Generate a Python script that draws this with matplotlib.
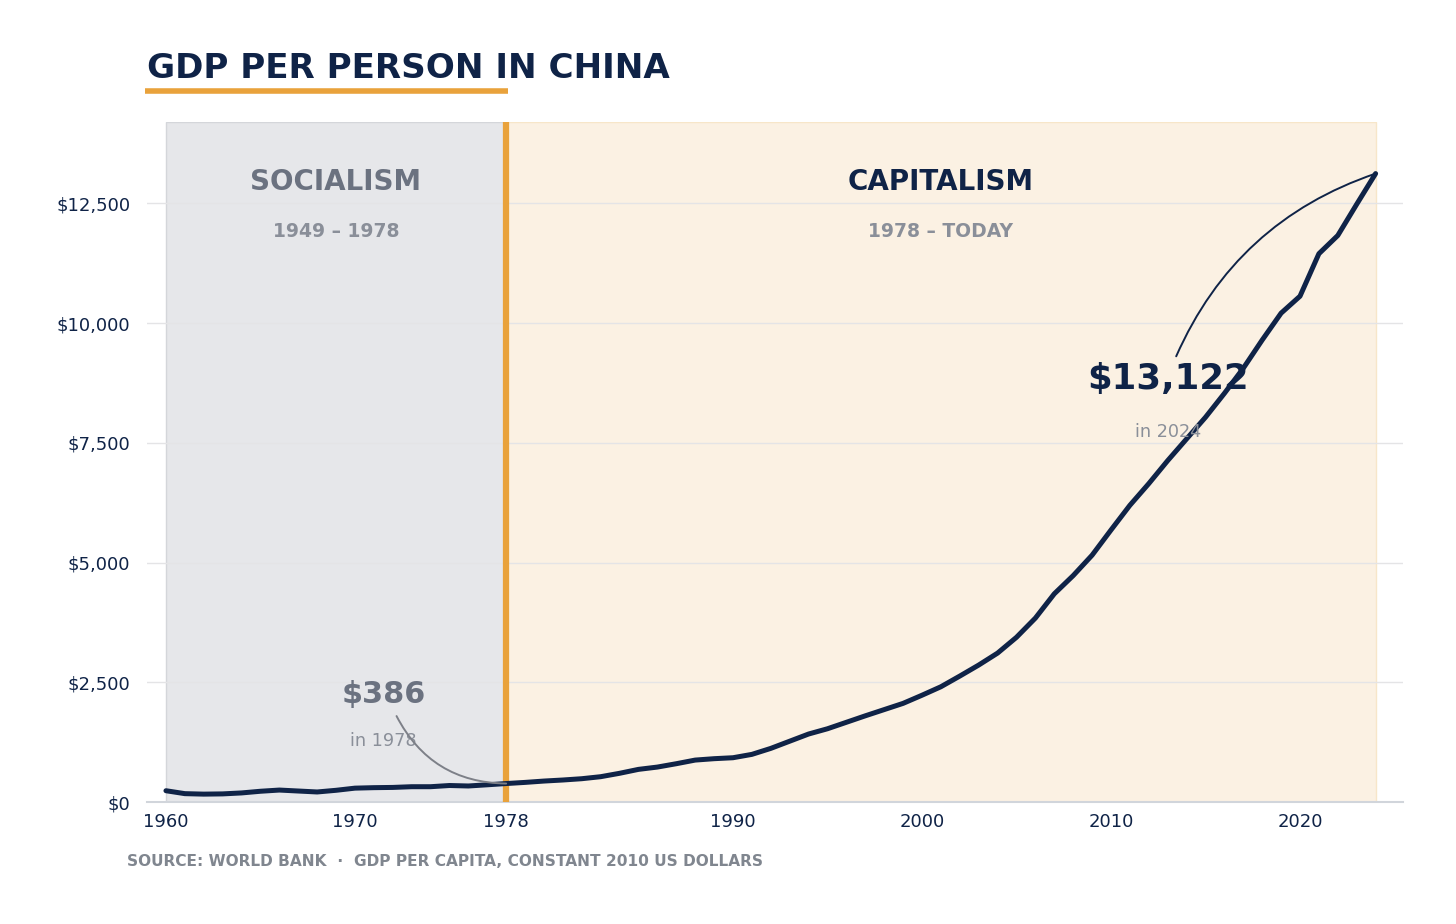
import matplotlib
matplotlib.use("Agg")
import matplotlib.pyplot as plt
from matplotlib.lines import Line2D
from matplotlib.ticker import FuncFormatter

# GDP per person, China
years = list(range(1960, 2025))
gdp = [236, 175, 165, 170, 190, 225, 250, 230, 210, 245,
       290, 300, 305, 320, 320, 345, 335, 360, 386, 410,
       438, 460, 487, 529, 600, 682, 730, 800, 876, 905,
       925, 995, 1120, 1270, 1420, 1530, 1665, 1800, 1930, 2060,
       2230, 2407, 2630, 2860, 3110, 3440, 3841, 4348, 4728, 5154,
       5680, 6196, 6649, 7129, 7582, 8034, 8533, 9058, 9647, 10208,
       10562, 11449, 11830, 12482, 13122]

x_ticks = [1960, 1970, 1978, 1990, 2000, 2010, 2020]
y_ticks = [0, 2500, 5000, 7500, 10000, 12500]
eras = [("SOCIALISM", "1949 – 1978", 1960, 1978),
        ("CAPITALISM", "1978 – TODAY", 1978, 2024)]

NAVY = "#0f2347"
ORANGE = "#e9a23b"
GRAY = "#6b7280"
LIGHT = "#8a8f99"

fig = plt.figure(figsize=(14.56, 9.24), dpi=100)
ax = fig.add_axes([0.101, 0.132, 0.8626, 0.736])

# era backgrounds
ax.axvspan(eras[0][2], eras[0][3], color="#e6e7ea", ec="#d4d6da", lw=1, zorder=0)
ax.axvspan(eras[1][2], eras[1][3], color="#fbf1e3", ec="#f7e6c9", lw=1, zorder=0)
ax.axvline(1978, color=ORANGE, lw=4.5, zorder=3)

for yv in y_ticks[1:]:
    ax.axhline(yv, color="#e4e4e6", lw=1, zorder=1)

ax.plot(years, gdp, color=NAVY, lw=3.6, solid_capstyle="round",
        solid_joinstyle="round", zorder=4)

# era labels
ax.text(1969.0, 12940, eras[0][0], ha="center", va="center", fontsize=20,
        fontweight="bold", color=GRAY, zorder=5)
ax.text(1969.0, 11916, eras[0][1], ha="center", va="center", fontsize=13.5,
        fontweight="bold", color=LIGHT, zorder=5)
ax.text(2001.0, 12940, eras[1][0], ha="center", va="center", fontsize=20,
        fontweight="bold", color=NAVY, zorder=5)
ax.text(2001.0, 11916, eras[1][1], ha="center", va="center", fontsize=13.5,
        fontweight="bold", color=LIGHT, zorder=5)

# callouts
ax.text(1971.5, 2254, f"${gdp[18]:,}", ha="center", va="center", fontsize=21.8,
        fontweight="bold", color=GRAY, zorder=5)
ax.text(1971.5, 1273, "in 1978", ha="center", va="center", fontsize=12.7,
        color=LIGHT, zorder=5)
ax.annotate("", xy=(1978, gdp[18]), xytext=(1972.2, 1795),
            arrowprops=dict(arrowstyle="-", color="#7d8088", lw=1.4,
                            connectionstyle="arc3,rad=0.3",
                            shrinkA=0, shrinkB=0), zorder=5)

ax.text(2013.0, 8827, f"${gdp[-1]:,}", ha="center", va="center", fontsize=25.6,
        fontweight="bold", color=NAVY, zorder=6)
ax.text(2013.0, 7721, "in 2024", ha="center", va="center", fontsize=12.7,
        color=LIGHT, zorder=6)
ax.annotate("", xy=(2024, gdp[-1]), xytext=(2013.45, 9307),
            arrowprops=dict(arrowstyle="-", color=NAVY, lw=1.4,
                            connectionstyle="arc3,rad=-0.22",
                            shrinkA=0, shrinkB=0), zorder=5)

ax.set_xlim(1959, 2025.45)
ax.set_ylim(0, 14200)
ax.set_xticks(x_ticks)
ax.set_yticks(y_ticks)
ax.yaxis.set_major_formatter(FuncFormatter(lambda v, p: f"${v:,.0f}"))
ax.tick_params(length=0, labelsize=13, labelcolor=NAVY)
ax.tick_params(axis="x", pad=8)
ax.tick_params(axis="y", pad=12)
for side in ["top", "right", "left"]:
    ax.spines[side].set_visible(False)
ax.spines["bottom"].set_color("#d1d5db")
ax.spines["bottom"].set_linewidth(1.5)
ax.spines["bottom"].set_zorder(2)

# title with underline
fig.text(0.101, 0.926, "GDP PER PERSON IN CHINA", ha="left", va="center",
         fontsize=24.6, fontweight="bold", color=NAVY)
fig.add_artist(Line2D([145 / 1456, 508 / 1456], [1 - 91 / 924, 1 - 91 / 924],
                      color=ORANGE, lw=4, solid_capstyle="butt"))

fig.text(127 / 1456, 1 - 862 / 924,
         "SOURCE: WORLD BANK  ·  GDP PER CAPITA, CONSTANT 2010 US DOLLARS",
         ha="left", va="center", fontsize=11.1, fontweight="bold", color="#80868f")

fig.savefig("out.png", dpi=100, facecolor="white")
